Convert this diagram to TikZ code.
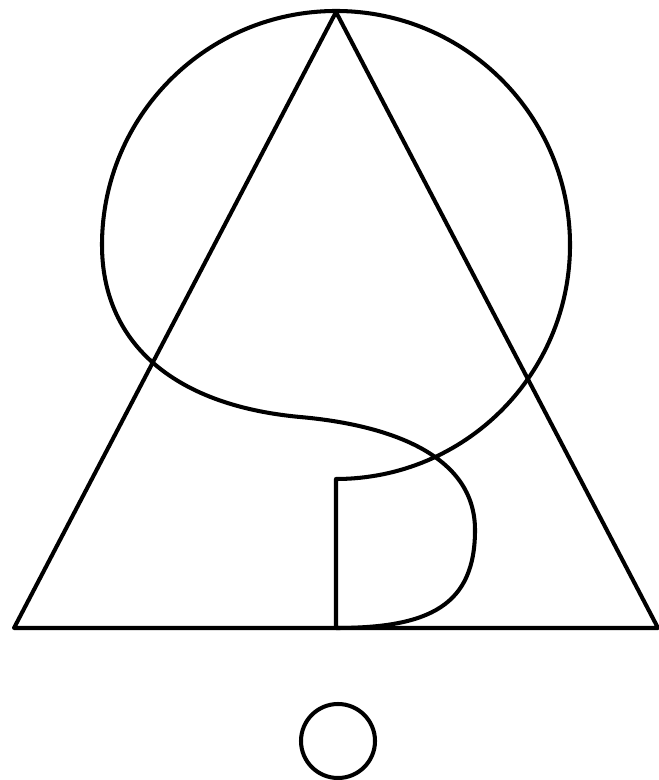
\documentclass[tikz,border=0pt]{standalone}
\usepackage{tikz}
\usetikzlibrary{calc}

\begin{document}
\begin{tikzpicture}[line width=1.15pt,line join=round]
  \useasboundingbox (0,0) rectangle (6.59,7.80);

  % Triangle
  \coordinate (apex) at (3.36,7.68);
  \coordinate (baseL) at (0.14,1.52);
  \coordinate (baseR) at (6.58,1.52);
  \draw (baseL) -- (apex) -- (baseR) -- cycle;

  % Hook: stem, big loop, S-bend and bulge
  \coordinate (foot) at (3.36,1.52);
  \coordinate (knee) at (3.36,3.01);
  \draw (foot) -- (knee)
    arc[start angle=-90,end angle=180,radius=2.34]
    .. controls (1.02,4.40) and (1.70,3.75) .. (3.00,3.63)
    .. controls (3.90,3.55) and (4.75,3.25) .. (4.75,2.50)
    .. controls (4.75,1.75) and (4.30,1.52) .. (foot);

  % Dot
  \draw (3.38,0.39) circle[radius=0.37];
\end{tikzpicture}
\end{document}
